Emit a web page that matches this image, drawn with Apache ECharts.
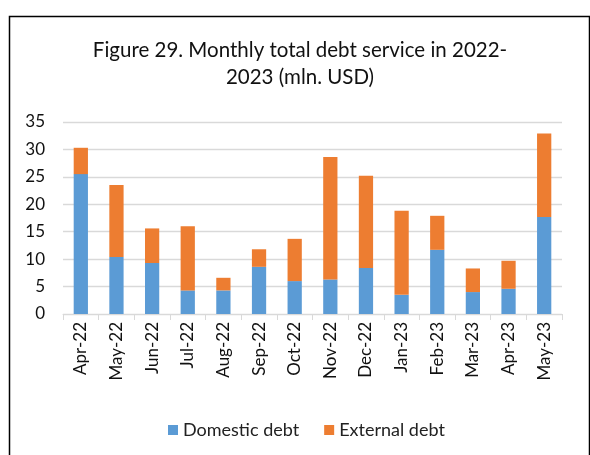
<!DOCTYPE html>
<html>
<head>
<meta charset="utf-8">
<script src="https://cdn.jsdelivr.net/npm/echarts@6/dist/echarts.min.js"></script>
<style>html,body{margin:0;padding:0;background:#fff;}#c{width:590px;height:455px;}</style>
</head>
<body>
<div id="c"></div>
<script>
const categories = ["Apr-22","May-22","Jun-22","Jul-22","Aug-22","Sep-22","Oct-22","Nov-22","Dec-22","Jan-23","Feb-23","Mar-23","Apr-23","May-23"];
const domesticDebt = [25.5,10.4,9.3,4.3,4.3,8.6,6.0,6.3,8.4,3.5,11.7,4.0,4.6,17.7];
const externalDebt = [4.8,13.1,6.3,11.7,2.3,3.2,7.7,22.3,16.8,15.3,6.2,4.3,5.1,15.2];
const yTicks = [0,5,10,15,20,25,30,35];

const FONT = "Lato, 'Open Sans', sans-serif";
const chart = echarts.init(document.getElementById('c'));
chart.setOption({
  animation: false,
  textStyle: { fontFamily: FONT },
  graphic: [{
    type: 'rect', left: 7, top: 14, silent: true,
    shape: { width: 580, height: 460 },
    style: { fill: 'none', stroke: '#000', lineWidth: 1.5 }
  }, {
    type: 'text', x: 300, y: 50, silent: true,
    style: { text: 'Figure 29. Monthly total debt service in 2022-', align: 'center', verticalAlign: 'middle',
      font: '20.5px ' + FONT, fill: '#111' }
  }, {
    type: 'text', x: 300, y: 77, silent: true,
    style: { text: '2023 (mln. USD)', align: 'center', verticalAlign: 'middle',
      font: '20.5px ' + FONT, fill: '#111' }
  }],
  legend: {
    top: 416, left: 163,
    itemWidth: 10, itemHeight: 10, itemGap: 25, itemStyle: { borderWidth: 0 },
    icon: 'rect',
    textStyle: { fontSize: 18, color: '#222', fontFamily: FONT },
    data: ['Domestic debt', 'External debt']
  },
  grid: { left: 63, right: 28, top: 122, bottom: 141 },
  xAxis: {
    type: 'category', data: categories,
    axisLine: { lineStyle: { color: '#d9d9d9', width: 1 } },
    axisTick: { show: true, length: 6, lineStyle: { color: '#d9d9d9' } },
    axisLabel: { rotate: 90, fontSize: 17, color: '#111', margin: 8, fontFamily: FONT }
  },
  yAxis: {
    type: 'value', min: yTicks[0], max: yTicks[yTicks.length-1], interval: 5,
    axisLine: { show: false }, axisTick: { show: false },
    splitLine: { lineStyle: { color: '#d9d9d9', width: 1.3 } },
    axisLabel: { fontSize: 17, color: '#111', margin: 18, fontFamily: FONT }
  },
  series: [
    { name: 'Domestic debt', type: 'bar', stack: 'total', data: domesticDebt, barWidth: '40%',
      itemStyle: { color: '#5b9bd5' } },
    { name: 'External debt', type: 'bar', stack: 'total', data: externalDebt, barWidth: '40%',
      itemStyle: { color: '#ed7d31' } }
  ]
});
</script>
</body>
</html>
